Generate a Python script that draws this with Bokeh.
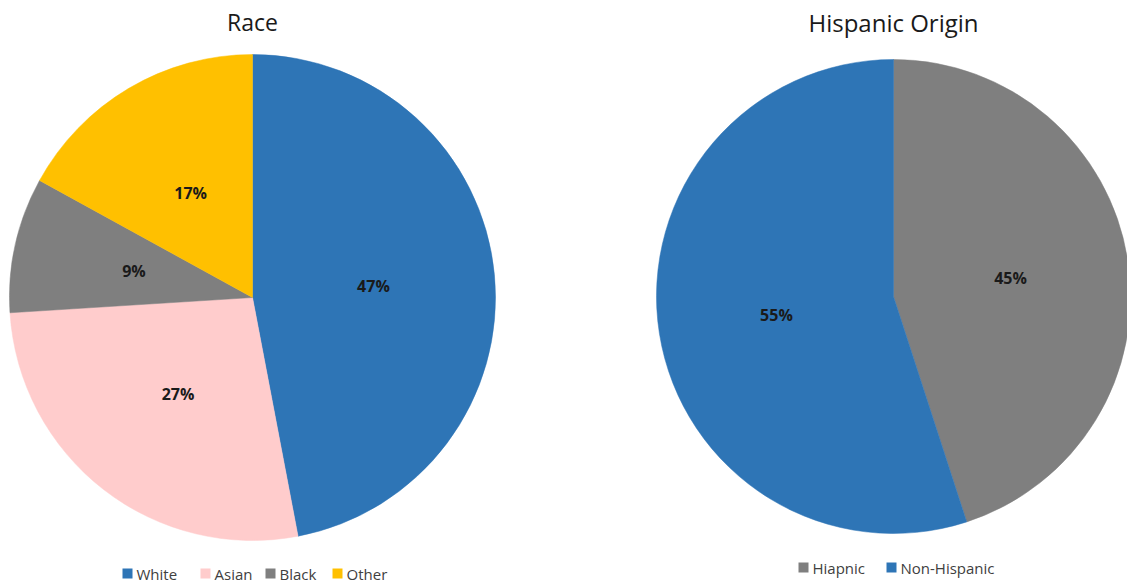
import math
from bokeh.plotting import figure
from bokeh.models import Range1d, ColumnDataSource
from bokeh.core.properties import value
from bokeh.embed import file_html
from bokeh.resources import INLINE

# Race breakdown (percent)
race_categories = ["White", "Asian", "Black", "Other"]
race_values = [47, 27, 9, 17]
race_colors = ["#2E75B6", "#FFCCCC", "#7F7F7F", "#FFC000"]

# Hispanic origin breakdown (percent)
hisp_categories = ["Hiapnic", "Non-Hispanic"]
hisp_values = [45, 55]
hisp_colors = ["#7F7F7F", "#2E75B6"]

W, H = 1127, 582
FONT = "Open Sans"

p = figure(width=W, height=H, output_backend="svg", toolbar_location=None,
           x_range=Range1d(0, W), y_range=Range1d(0, H), min_border=0)
p.axis.visible = False
p.grid.visible = False
p.outline_line_color = None
p.background_fill_color = "white"
p.border_fill_color = "white"


def sy(y):
    # screen-style y (from top) to data y
    return H - y


def draw_pie(cx, cy, r, vals, colors, label_frac=0.5):
    total = float(sum(vals))
    starts, ends, lx, ly, labels = [], [], [], [], []
    acc = 0.0
    for v in vals:
        a0 = acc / total
        a1 = (acc + v) / total
        # clockwise from 12 o'clock
        starts.append(math.pi / 2 - 2 * math.pi * a0)
        ends.append(math.pi / 2 - 2 * math.pi * a1)
        mid = math.pi / 2 - 2 * math.pi * (a0 + a1) / 2
        lx.append(cx + label_frac * r * math.cos(mid))
        ly.append(sy(cy) + label_frac * r * math.sin(mid))
        labels.append(f"{v}%")
        acc += v
    src = ColumnDataSource(dict(start=starts, end=ends, color=colors))
    p.wedge(x=cx, y=sy(cy), radius=r, start_angle="start", end_angle="end",
            direction="clock", fill_color="color", line_color="color",
            line_width=0.5, source=src)
    p.text(x=lx, y=ly, text=labels, text_font=value(FONT), text_font_style="bold",
           text_font_size="16px", text_color="#1a1a1a", text_align="center",
           text_baseline="middle")


def draw_legend(items, colors, xs, y):
    p.rect(x=[x + 5 for x in xs], y=[sy(y)] * len(xs), width=10, height=10,
           fill_color=colors, line_color=None)
    p.text(x=[x + 14 for x in xs], y=[sy(y)] * len(xs), text=items,
           text_font=value(FONT), text_font_size="15px", text_color="#404040",
           text_align="left", text_baseline="middle")


# Race pie
draw_pie(252, 297, 243, race_values, race_colors)
p.text(x=[252], y=[sy(21)], text=["Race"], text_font=value(FONT),
       text_font_size="23px", text_color="#1a1a1a", text_align="center",
       text_baseline="middle")
draw_legend(race_categories, race_colors, [122, 200, 265, 332], 573)

# Hispanic origin pie
draw_pie(893, 296, 237, hisp_values, hisp_colors)
p.text(x=[893], y=[sy(22)], text=["Hispanic Origin"], text_font=value(FONT),
       text_font_size="24px", text_color="#1a1a1a", text_align="center",
       text_baseline="middle")
draw_legend(hisp_categories, hisp_colors, [798, 886], 567)

open("out.html", "w").write(file_html(p, INLINE))
